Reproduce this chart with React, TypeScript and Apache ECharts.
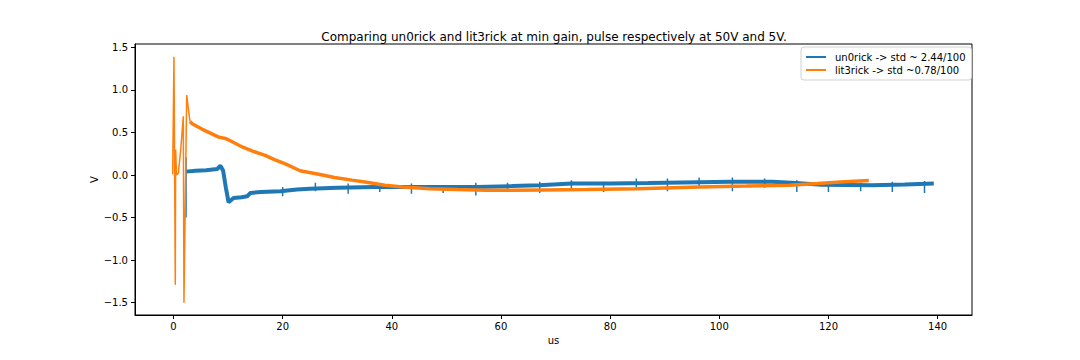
import React, { useEffect, useRef } from "react";
import * as echarts from "echarts";

const TITLE = "Comparing un0rick and lit3rick at min gain, pulse respectively at 50V and 5V.";
const BLUE_NAME = "un0rick -> std ~ 2.44/100";
const ORANGE_NAME = "lit3rick -> std ~0.78/100";
const X_TICKS = [0, 20, 40, 60, 80, 100, 120, 140];
const Y_TICKS = [-1.5, -1.0, -0.5, 0.0, 0.5, 1.0, 1.5];

// lit3rick: fast transient at the start (us, V)
const orangeFastT = [-0.15, 0.09, 0.33, 0.4, 0.55, 0.88, 1.32, 1.8, 1.92, 2.42, 3.02];
const orangeFastV = [0.01, 1.39, -1.29, 0.3, 0.0, 0.02, 0.29, 0.69, -1.5, 0.94, 0.63];

// lit3rick: slow decay (us, V)
const orangeT = [3.02, 3.5, 5.2, 8.3, 9.5, 10.5, 12.6, 14.5, 16.8, 18.5, 20.5, 23.2, 26.6, 29.5, 32.7, 35.4, 38.7, 42, 47, 52, 57.3, 62, 68, 75.6, 85, 96.3, 105, 112.8, 118, 123, 127.4];
const orangeV = [0.63, 0.6, 0.54, 0.445, 0.43, 0.4, 0.33, 0.28, 0.23, 0.18, 0.13, 0.05, 0.01, -0.03, -0.06, -0.085, -0.12, -0.14, -0.16, -0.17, -0.18, -0.18, -0.175, -0.17, -0.16, -0.14, -0.13, -0.12, -0.1, -0.08, -0.065];

// un0rick: baseline (us, V)
const blueT = [2.35, 4, 6, 8.0, 8.6, 9.1, 9.6, 10.1, 11.0, 12.5, 13.5, 14.1, 16, 19.6, 22.6, 25, 30, 37, 45, 55.5, 62, 67, 73, 80, 87, 96.3, 102, 109.7, 114, 118.8, 128, 134, 139.3];
const blueV = [0.04, 0.05, 0.055, 0.07, 0.11, 0.05, -0.15, -0.32, -0.27, -0.26, -0.25, -0.21, -0.2, -0.19, -0.17, -0.16, -0.15, -0.14, -0.14, -0.14, -0.13, -0.12, -0.1, -0.1, -0.095, -0.085, -0.08, -0.08, -0.095, -0.115, -0.12, -0.11, -0.1];

// un0rick: periodic glitches (us, low V, high V)
const blueGlitchT = [2.3, 20.0, 26.0, 32.0, 37.8, 43.6, 49.4, 55.4, 61.2, 67.1, 72.9, 78.8, 84.8, 90.5, 96.3, 102.4, 108.3, 114.2, 120.0, 125.9, 131.7, 137.6];
const blueGlitchLow = [-0.5, -0.25, -0.19, -0.22, -0.2, -0.22, -0.21, -0.24, -0.19, -0.21, -0.16, -0.2, -0.15, -0.19, -0.14, -0.19, -0.15, -0.2, -0.2, -0.19, -0.2, -0.21];
const blueGlitchHigh = [0.21, -0.14, -0.09, -0.1, -0.12, -0.1, -0.12, -0.09, -0.09, -0.08, -0.06, -0.08, -0.04, -0.04, -0.03, -0.03, -0.04, -0.06, -0.08, -0.09, -0.08, -0.07];

const BLUE = "#1f77b4";
const ORANGE = "#ff7f0e";
const FONT = "DejaVu Sans";

function zip(t: number[], v: number[]) {
  return t.map((x, i) => [x, v[i]]);
}

function glitches(t: number[], lo: number[], hi: number[]) {
  const out: any[] = [];
  t.forEach((x, i) => {
    out.push([x, lo[i]]);
    out.push([x, hi[i]]);
    out.push([x, "-"]);
  });
  return out;
}

export default function App() {
  const ref = useRef<HTMLDivElement>(null);
  useEffect(() => {
    if (!ref.current) return;
    const chart = echarts.init(ref.current, null, { renderer: "svg" });
    const fmtY = (v: number) => v.toFixed(1).replace("-", "\u2212");
    chart.setOption({
      animation: false,
      backgroundColor: "#ffffff",
      textStyle: { fontFamily: FONT },
      title: {
        text: TITLE,
        left: 549,
        textAlign: "center",
        top: 26,
        textStyle: { fontFamily: FONT, fontSize: 12, fontWeight: "normal", color: "#000" },
      },
      legend: {
        data: [BLUE_NAME, ORANGE_NAME],
        orient: "vertical",
        left: 801,
        top: 47,
        padding: [5, 6, 5, 5],
        itemGap: 3,
        itemWidth: 20,
        itemHeight: 2,
        icon: "rect",
        backgroundColor: "#fff",
        borderColor: "#d0d0d0",
        borderWidth: 1,
        borderRadius: 3,
        textStyle: { fontFamily: FONT, fontSize: 10, color: "#000", padding: [0, 0, 0, 4] },
      },
      grid: {
        left: 135,
        right: 108,
        top: 44,
        bottom: 45,
        show: true,
        borderColor: "#000",
        borderWidth: 1,
        containLabel: false,
      },
      xAxis: {
        type: "value",
        min: -7.05,
        max: 146.3,
        name: "us",
        nameLocation: "middle",
        nameGap: 20,
        nameMoveOverlap: false,
        nameTextStyle: { fontFamily: FONT, fontSize: 10, color: "#000" },
        axisLine: { show: true, onZero: false, lineStyle: { color: "#000", width: 1 } },
        axisTick: { show: true, length: 4, lineStyle: { color: "#000" }, customValues: X_TICKS },
        axisLabel: { fontFamily: FONT, fontSize: 10, color: "#000", margin: 6, customValues: X_TICKS, formatter: (v: number) => String(v) },
        splitLine: { show: false },
      },
      yAxis: {
        type: "value",
        min: -1.644,
        max: 1.539,
        name: "V",
        nameLocation: "middle",
        nameGap: 36,
        nameMoveOverlap: false,
        nameTextStyle: { fontFamily: FONT, fontSize: 10, color: "#000" },
        axisLine: { show: true, onZero: false, lineStyle: { color: "#000", width: 1 } },
        axisTick: { show: true, length: 4, lineStyle: { color: "#000" }, customValues: Y_TICKS },
        axisLabel: { fontFamily: FONT, fontSize: 10, color: "#000", margin: 7, customValues: Y_TICKS, formatter: fmtY },
        splitLine: { show: false },
      },
      series: [
        {
          name: BLUE_NAME,
          type: "line",
          symbol: "none",
          showSymbol: false,
          data: zip(blueT, blueV),
          lineStyle: { color: BLUE, width: 4 },
          itemStyle: { color: BLUE },
        },
        {
          name: BLUE_NAME,
          type: "line",
          symbol: "none",
          showSymbol: false,
          connectNulls: false,
          data: glitches(blueGlitchT, blueGlitchLow, blueGlitchHigh),
          lineStyle: { color: BLUE, width: 1.5 },
          itemStyle: { color: BLUE },
        },
        {
          name: ORANGE_NAME,
          type: "line",
          symbol: "none",
          showSymbol: false,
          data: zip(orangeFastT, orangeFastV),
          lineStyle: { color: ORANGE, width: 1.5 },
          itemStyle: { color: ORANGE },
        },
        {
          name: ORANGE_NAME,
          type: "line",
          symbol: "none",
          showSymbol: false,
          data: zip(orangeT, orangeV),
          lineStyle: { color: ORANGE, width: 3.5 },
          itemStyle: { color: ORANGE },
        },
      ],
    });
    return () => chart.dispose();
  }, []);
  return (
    <div
      ref={ref}
      style={{ position: "fixed", left: 0, top: 0, width: 1080, height: 360 }}
    />
  );
}
